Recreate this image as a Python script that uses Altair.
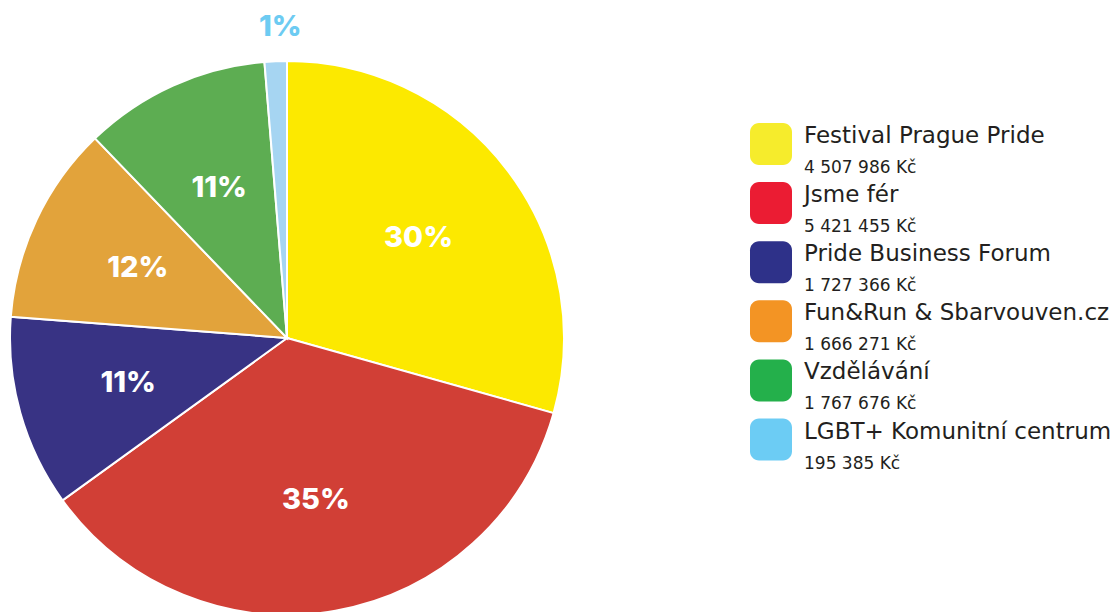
import altair as alt
import pandas as pd

categories = ["Festival Prague Pride", "Jsme fér", "Pride Business Forum",
              "Fun&Run & Sbarvouven.cz", "Vzdělávání", "LGBT+ Komunitní centrum"]
amount_labels = ["4 507 986 Kč", "5 421 455 Kč", "1 727 366 Kč",
                 "1 666 271 Kč", "1 767 676 Kč", "195 385 Kč"]
slice_share = [29.4, 35.7, 11.2, 11.6, 10.9, 1.3]
pct_labels = ["30%", "35%", "11%", "12%", "11%", "1%"]
pie_colors = ["#FCE900", "#D13F36", "#383384", "#E2A33B", "#5DAD52", "#A6D5F2"]
legend_colors = ["#F6EC2C", "#EB1C33", "#2E3189", "#F39424", "#24B04B", "#6CCCF4"]

df = pd.DataFrame({
    "cat": categories,
    "idx": list(range(len(categories))),
    "share": slice_share,
    "pct": pct_labels,
    "amount": amount_labels,
})

CX, CY = 287, 338
R = 277

color_pie = alt.Color("cat:N", scale=alt.Scale(domain=categories, range=pie_colors), legend=None)

base = alt.Chart(df).encode(
    theta=alt.Theta("share:Q", stack=True),
    order=alt.Order("idx:Q"),
    x=alt.value(CX), y=alt.value(CY),
)

pie = base.mark_arc(outerRadius=R, stroke="white", strokeWidth=2).encode(color=color_pie)

inner_labels = base.transform_filter("datum.idx < 5").mark_text(
    radius=165, font="Inter", fontWeight=800, fontSize=29, color="white",
    align="center", baseline="middle"
).encode(text="pct:N")

outer_label = base.mark_text(
    radius=311, dx=6, font="Inter", fontWeight=800, fontSize=29, color="#6DCBF2",
    align="center", baseline="middle"
).encode(text=alt.condition("datum.idx == 5", "pct:N", alt.value("")))

yscale = alt.Scale(domain=categories, range=[123, 460.5], paddingInner=0.29, paddingOuter=0)
ylegend = alt.Y("cat:N", scale=yscale, axis=None)

swatches = alt.Chart(df).mark_rect(cornerRadius=9).encode(
    y=ylegend,
    x=alt.value(750), x2=alt.value(792),
    color=alt.Color("cat:N", scale=alt.Scale(domain=categories, range=legend_colors), legend=None),
)

names = alt.Chart(df).mark_text(
    align="left", baseline="alphabetic", dy=-1, font="DejaVu Sans", fontSize=23, color="#231F20"
).encode(y=ylegend, x=alt.value(804), text="cat:N")

amounts = alt.Chart(df).mark_text(
    align="left", baseline="alphabetic", dy=29, font="DejaVu Sans", fontSize=17, color="#231F20"
).encode(y=ylegend, x=alt.value(804), text="amount:N")

chart = alt.layer(pie, inner_labels, outer_label, swatches, names, amounts).resolve_scale(
    color="independent"
).properties(
    width=1120, height=612, padding=0, autosize=alt.AutoSizeParams(type="none")
).configure_view(stroke=None)

chart.save("out.html", embed_options={"renderer": "svg", "actions": False})
